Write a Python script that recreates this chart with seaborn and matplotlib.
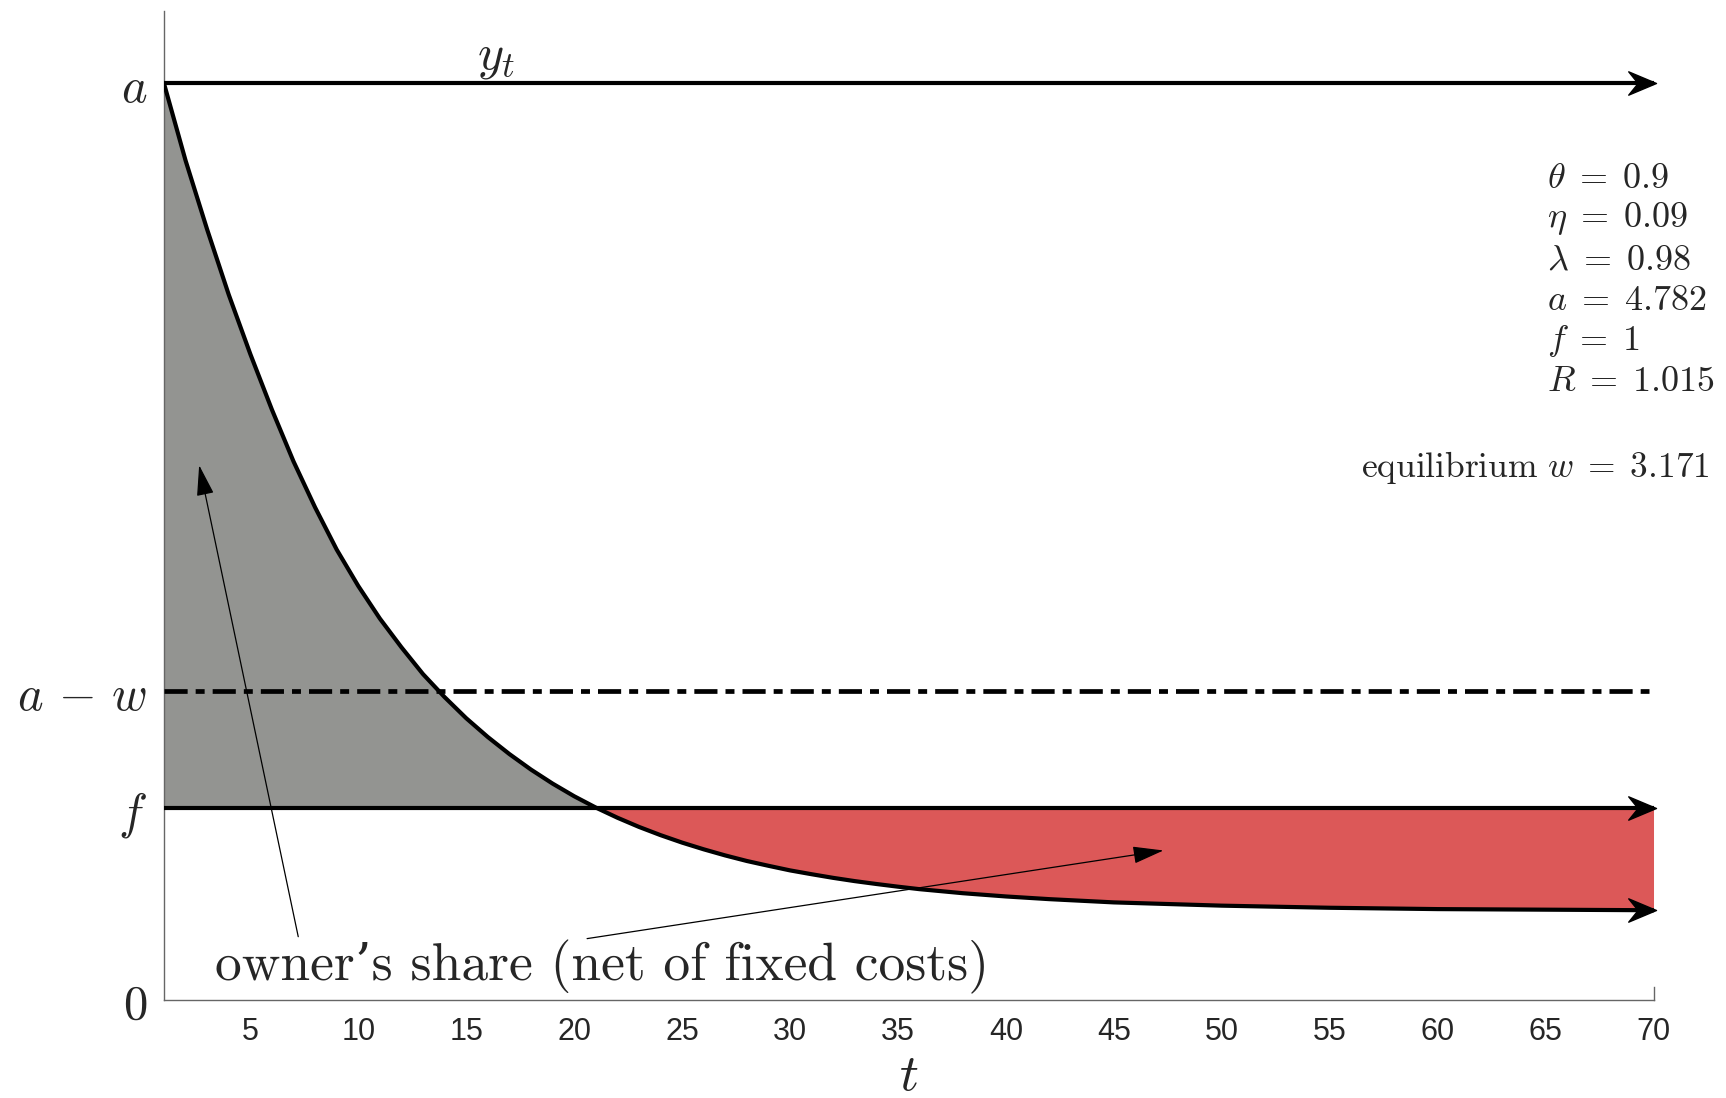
import numpy as np
import matplotlib.pyplot as plt
import seaborn as sns
from matplotlib.path import Path

# model parameters shown on the chart
a_val = 4.782
w_val = 3.171
f_val = 1.0

# owner's share path
t_pts = [1, 2, 3, 4, 5, 6, 7, 8, 9, 10, 11, 12, 13, 14, 15, 16, 17, 18, 19, 20,
         21, 22, 23, 24, 25, 26, 27, 28, 29, 30, 31, 32, 33, 34, 35, 36, 38, 40,
         42, 45, 50, 55, 60, 65, 70]
share = [4.782, 4.38, 4.02, 3.68, 3.37, 3.08, 2.81, 2.57, 2.35, 2.16, 1.99,
         1.84, 1.70, 1.58, 1.47, 1.372, 1.283, 1.202, 1.129, 1.063, 1.004,
         0.951, 0.903, 0.860, 0.821, 0.786, 0.754, 0.725, 0.700, 0.676, 0.656,
         0.637, 0.620, 0.605, 0.591, 0.578, 0.557, 0.540, 0.526, 0.509, 0.492,
         0.481, 0.474, 0.471, 0.468]

param_lines = [r'$\theta\;=\;0.9$', r'$\eta\;=\;0.09$', r'$\lambda\;=\;0.98$',
               r'$a\;=\;4.782$', r'$f\;=\;1$', r'$R\;=\;1.015$']
eq_label = r'$\mathrm{equilibrium}\ w\;=\;3.171$'
x_ticks = [5, 10, 15, 20, 25, 30, 35, 40, 45, 50, 55, 60, 65, 70]
y_ticks = [0, f_val, a_val - w_val, a_val]
y_ticklabels = [r'$0$', r'$f$', r'$a\,-\,w$', r'$a$']

sns.set_style('white')
plt.rcParams['mathtext.fontset'] = 'cm'

t = np.array(t_pts)
s = np.array(share)

fig = plt.figure(figsize=(17.26, 10.98), dpi=100)
ax = fig.add_axes([0.095, 0.0893, 0.863, 0.9007])

gray = '#939491'
red = '#dc5858'
ax.fill_between(t, s, f_val, where=s >= f_val, interpolate=True, color=gray, lw=0, zorder=1)
ax.fill_between(t, s, f_val, where=s <= f_val, interpolate=True, color=red, lw=0, zorder=1)

lw = 3.0
# notched arrow head, tip at the origin
stealth = Path([(0, 0), (-1, 0.42), (-0.66, 0), (-1, -0.42), (0, 0)],
               [Path.MOVETO, Path.LINETO, Path.LINETO, Path.LINETO, Path.CLOSEPOLY])
tip = t[-1] + 0.12

# y_t and fixed cost lines
for level in [a_val, f_val]:
    ax.plot([t[0], t[-1]], [level, level], color='k', lw=lw, solid_capstyle='butt', zorder=4)
    ax.plot([tip], [level], marker=stealth, markersize=40, color='k', lw=0, clip_on=False, zorder=5)
# a - w dash-dot line
ax.plot([t[0], t[-1] - 0.2], [a_val - w_val] * 2, color='k', lw=3.4,
        linestyle=(0, (4.9, 1.7, 1.9, 1.7)), zorder=3)
# share curve
sns.lineplot(x=t, y=s, ax=ax, color='k', lw=lw, zorder=4)
ax.plot([tip], [s[-1]], marker=stealth, markersize=40, color='k', lw=0, clip_on=False, zorder=5)

# thin annotation arrows
thin = dict(arrowstyle='-|>,head_length=1.6,head_width=0.45', mutation_scale=12,
            color='k', lw=0.9, shrinkA=0, shrinkB=0)
ax.annotate('', xy=(2.63, 2.79), xytext=(7.22, 0.33), arrowprops=thin, zorder=5)
ax.annotate('', xy=(47.3, 0.78), xytext=(20.6, 0.32), arrowprops=thin, zorder=5)
ax.text(21.3, 0.17, "owner\u2019s share (net of fixed costs)", family=['cmr10', 'DejaVu Serif'],
        fontsize=38.5, ha='center', va='center', zorder=6)

ax.text(16.4, 4.92, r'$y_t$', fontsize=36, ha='center', va='center')

for i, line in enumerate(param_lines):
    ax.text(65.05, 4.29 - i * 0.2126, line, fontsize=26, ha='left', va='center')
ax.text(72.6, 2.78, eq_label, fontsize=25.5, ha='right', va='center', clip_on=False)

ax.set_xlim(1, 70)
ax.set_ylim(0, 5.16)
ax.set_xticks(x_ticks)
ax.set_xticklabels([str(v) for v in x_ticks], family='Liberation Sans', fontsize=22, color='#262626')
ax.set_yticks(y_ticks)
ax.set_yticklabels(y_ticklabels, fontsize=35)
ax.tick_params(axis='x', length=0, pad=12)
ax.tick_params(axis='y', length=0, pad=12)
ax.set_xlabel(r'$t$', fontsize=38, labelpad=2)

ax.spines['top'].set_visible(False)
ax.spines['right'].set_bounds(0, 0.065)
for side in ['left', 'bottom', 'right']:
    ax.spines[side].set_color('#666666')
    ax.spines[side].set_linewidth(1.0)

fig.savefig('out.png', dpi=100)
